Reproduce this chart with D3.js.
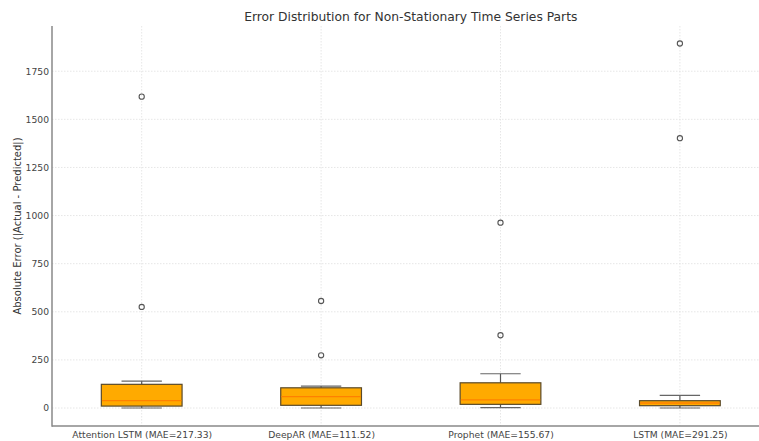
<!DOCTYPE html>
<html>
<head>
<meta charset="utf-8">
<script src="https://cdn.jsdelivr.net/npm/d3@7"></script>
<style>
  body { margin: 0; background: #fff; }
  svg { display: block; font-family: 'DejaVu Sans', sans-serif; }
</style>
</head>
<body>
<svg width="759" height="441"></svg>
<script>
// box stats
const models = ['Attention LSTM (MAE=217.33)', 'DeepAR (MAE=111.52)', 'Prophet (MAE=155.67)', 'LSTM (MAE=291.25)'];
const lowWhisker = [0, 0, 2, 0];
const q1 = [10, 14, 19, 12];
const median = [38, 59, 42, 26];
const q3 = [123, 105, 131, 38];
const highWhisker = [140, 114, 178, 66];
const outliers = [[525, 1618], [274, 556], [378, 963], [1402, 1894]];
const yTicks = [0, 250, 500, 750, 1000, 1250, 1500, 1750];

const svg = d3.select('svg');
const plotLeft = 52, plotTop = 26, plotBottom = 426;

// positions 1..4 with 0.5 padding, same as the boxplot default
const x = d3.scaleLinear().domain([0.5, 4.5]).range([plotLeft, 769.6]);
const y = d3.scaleLinear().domain([-93.5, 1985]).range([plotBottom, plotTop]);
const boxW = x(1.45) - x(1);
const capW = boxW / 2;

const grid = svg.append('g').attr('stroke', '#e0e0e0').attr('stroke-width', 0.8).attr('stroke-dasharray', '1.5,1.5');
grid.selectAll('.gy').data(yTicks).enter().append('line')
    .attr('x1', plotLeft).attr('x2', 759)
    .attr('y1', d => y(d)).attr('y2', d => y(d));
grid.selectAll('.gx').data(models).enter().append('line')
    .attr('x1', (d, i) => x(i + 1)).attr('x2', (d, i) => x(i + 1))
    .attr('y1', plotTop).attr('y2', plotBottom);

// axes
const axisY = d3.axisLeft(y).tickValues(yTicks).tickFormat(d3.format('d')).tickSize(0).tickPadding(3);
svg.append('g')
    .attr('transform', `translate(${plotLeft},0)`)
  .call(axisY)
  .call(g => g.select('.domain').remove())
  .selectAll('text')
    .attr('font-size', 9.2)
    .attr('fill', '#444')
    .attr('font-family', 'DejaVu Sans, sans-serif');

const axisX = d3.axisBottom(x).tickValues([1, 2, 3, 4]).tickFormat(d => models[d - 1]).tickSize(0).tickPadding(5);
svg.append('g')
    .attr('transform', `translate(0,${plotBottom})`)
  .call(axisX)
  .call(g => g.select('.domain').remove())
  .selectAll('text')
    .attr('font-size', 9.2)
    .attr('fill', '#444')
    .attr('font-family', 'DejaVu Sans, sans-serif');

svg.append('line')
    .attr('x1', plotLeft).attr('x2', plotLeft).attr('y1', plotTop).attr('y2', plotBottom + 0.75)
    .attr('stroke', '#888').attr('stroke-width', 1.5);
svg.append('line')
    .attr('x1', plotLeft).attr('x2', 759).attr('y1', plotBottom).attr('y2', plotBottom)
    .attr('stroke', '#888').attr('stroke-width', 1.5);

// boxes
const boxes = svg.selectAll('.box')
  .data(models)
  .enter()
  .append('g')
    .attr('class', 'box');

boxes.append('line')
    .attr('x1', (d, i) => x(i + 1)).attr('x2', (d, i) => x(i + 1))
    .attr('y1', (d, i) => y(highWhisker[i])).attr('y2', (d, i) => y(q3[i]))
    .attr('stroke', '#555').attr('stroke-width', 1.2);
boxes.append('line')
    .attr('x1', (d, i) => x(i + 1)).attr('x2', (d, i) => x(i + 1))
    .attr('y1', (d, i) => y(lowWhisker[i])).attr('y2', (d, i) => y(q1[i]))
    .attr('stroke', '#555').attr('stroke-width', 1.2);
boxes.append('line')
    .attr('x1', (d, i) => x(i + 1) - capW / 2).attr('x2', (d, i) => x(i + 1) + capW / 2)
    .attr('y1', (d, i) => y(highWhisker[i])).attr('y2', (d, i) => y(highWhisker[i]))
    .attr('stroke', '#666').attr('stroke-width', 1.2);
boxes.append('line')
    .attr('x1', (d, i) => x(i + 1) - capW / 2).attr('x2', (d, i) => x(i + 1) + capW / 2)
    .attr('y1', (d, i) => y(lowWhisker[i])).attr('y2', (d, i) => y(lowWhisker[i]))
    .attr('stroke', '#666').attr('stroke-width', 1.2);
boxes.append('rect')
    .attr('x', (d, i) => x(i + 1) - boxW / 2)
    .attr('width', boxW)
    .attr('y', (d, i) => y(q3[i]))
    .attr('height', (d, i) => y(q1[i]) - y(q3[i]))
    .attr('fill', '#ffaa00')
    .attr('stroke', '#5a4a2a').attr('stroke-width', 1.2);
boxes.append('line')
    .attr('x1', (d, i) => x(i + 1) - boxW / 2 + 0.6).attr('x2', (d, i) => x(i + 1) + boxW / 2 - 0.6)
    .attr('y1', (d, i) => y(median[i])).attr('y2', (d, i) => y(median[i]))
    .attr('stroke', '#ff8000').attr('stroke-width', 1.3);
boxes.selectAll('circle')
  .data((d, i) => outliers[i].map(v => ({ i, v })))
  .enter()
  .append('circle')
    .attr('cx', d => x(d.i + 1))
    .attr('cy', d => y(d.v))
    .attr('r', 2.6)
    .attr('fill', 'none')
    .attr('stroke', '#555')
    .attr('stroke-width', 1.1);

svg.append('text')
    .text('Error Distribution for Non-Stationary Time Series Parts')
    .attr('x', (plotLeft + 769.6) / 2)
    .attr('y', 21)
    .attr('text-anchor', 'middle')
    .attr('font-size', 12.3)
    .attr('fill', '#333');

svg.append('text')
    .text('Absolute Error (|Actual - Predicted|)')
    .attr('transform', `translate(20.5,${(plotTop + plotBottom) / 2}) rotate(-90)`)
    .attr('text-anchor', 'middle')
    .attr('font-size', 10)
    .attr('fill', '#333');
</script>
</body>
</html>
